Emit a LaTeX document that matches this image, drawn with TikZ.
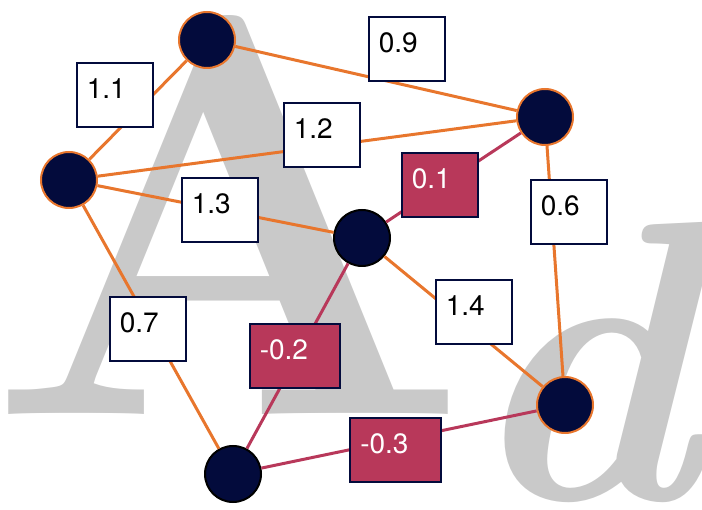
\documentclass[tikz,border=0pt]{standalone}
\usepackage{fontspec}
\newfontfamily\labelfont{TeX Gyre Heros}
\definecolor{navy}{HTML}{030B3C}
\definecolor{edgeorange}{HTML}{E8762D}
\definecolor{edgered}{HTML}{B8385A}
\definecolor{lettergrey}{HTML}{C9C9C9}
\tikzset{
	vertex/.style={circle, draw=edgeorange, fill=navy, line width=2pt, minimum size=56pt, inner sep=0pt},
	darkvertex/.style={vertex, draw=black},
	posedge/.style={edgeorange, line width=3pt},
	negedge/.style={edgered, line width=3pt},
	weight/.style={draw=navy, fill=white, line width=2pt, text width=56.5pt, align=left, inner xsep=10pt, minimum height=64pt, text depth=13pt, font=\labelfont\fontsize{28pt}{30pt}\selectfont},
	negweight/.style={weight, fill=edgered, text=white, text width=70.5pt},
}

\begin{document}
\begin{tikzpicture}[x=1pt, y=-1pt]
	\useasboundingbox (0, 0) rectangle (702, 510);
	\begin{scope}
		\clip (0, 0) rectangle (702, 510);
		\node[anchor=base west, inner sep=0pt, text=lettergrey] (bigA) at (-13.5, 415) {\fontsize{570pt}{580pt}\selectfont\bfseries A};
		\node[anchor=base west, inner sep=0pt, text=lettergrey] (bigd) at (462, 500) {\fontsize{400pt}{420pt}\selectfont\bfseries\itshape d};
	\end{scope}

	\node[vertex] (top) at (207, 40) {};
	\node[vertex] (right) at (545, 117) {};
	\node[vertex] (left) at (69, 180) {};
	\node[darkvertex] (mid) at (362, 238) {};
	\node[vertex] (low) at (565, 405) {};
	\node[darkvertex] (bottom) at (233, 474) {};

	\draw[posedge] (top) -- (right);
	\draw[posedge] (top) -- (left);
	\draw[posedge] (left) -- (right);
	\draw[posedge] (left) -- (mid);
	\draw[negedge] (right) -- (mid);
	\draw[posedge] (right) -- (low);
	\draw[posedge] (mid) -- (low);
	\draw[posedge] (left) -- (bottom);
	\draw[negedge] (mid) -- (bottom);
	\draw[negedge] (bottom) -- (low);

	\node[weight] (w11) at (115, 95.5) {1.1};
	\node[weight] (w09) at (407, 49.5) {0.9};
	\node[weight] (w12) at (322, 135) {1.2};
	\node[weight] (w13) at (220, 210.5) {1.3};
	\node[negweight, text width=56.5pt] (w01) at (440, 185.5) {0.1};
	\node[weight] (w06) at (569, 212) {0.6};
	\node[weight] (w14) at (474, 312) {1.4};
	\node[weight] (w07) at (148, 329.5) {0.7};
	\node[negweight] (w02) at (295, 356.5) {-0.2};
	\node[negweight] (w03) at (395.5, 450) {-0.3};
\end{tikzpicture}
\end{document}
